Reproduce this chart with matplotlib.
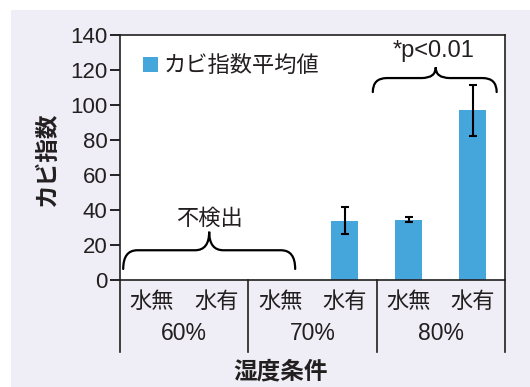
import numpy as np
import matplotlib.pyplot as plt
from matplotlib.path import Path
from matplotlib.patches import PathPatch, Rectangle

plt.rcParams['font.family'] = ['Liberation Sans', 'Noto Sans CJK JP']

water = ["水無", "水有", "水無", "水有", "水無", "水有"]
humidity = ["60%", "70%", "80%"]
values = [0, 0, 0, 34, 34.5, 97]
errors = [0, 0, 0, 7.5, 1.5, 14.5]
legend_label = "カビ指数平均値"

bar_color = "#45A6DC"
text_color = "#231F20"
cjk = ['Noto Sans CJK JP', 'DejaVu Sans']


def brace(ax, x0, x1, xm, ybot, ytop, ytip, rx=0.22):
    # curly bracket opening downwards, drawn in data coords
    verts = [
        (x0, ybot), (x0, ytop), (x0 + rx, ytop),
        (xm - rx, ytop), (xm, ytop), (xm, ytip),
        (xm, ytop), (xm + rx, ytop),
        (x1 - rx, ytop), (x1, ytop), (x1, ybot),
    ]
    codes = [Path.MOVETO, Path.CURVE3, Path.CURVE3,
             Path.LINETO, Path.CURVE3, Path.CURVE3,
             Path.CURVE3, Path.CURVE3,
             Path.LINETO, Path.CURVE3, Path.CURVE3]
    ax.add_patch(PathPatch(Path(verts, codes), fill=False, lw=1.6,
                           color="black", clip_on=False, capstyle="round"))


fig = plt.figure(figsize=(5.3, 3.87), dpi=100)
fig.patches.append(Rectangle((11 / 530, 0), 1, 1 - 10 / 387, transform=fig.transFigure,
                             facecolor="#EFEEF6", edgecolor="none", zorder=-10))
ax = fig.add_axes([120 / 530, 1 - 280 / 387, 385 / 530, 245 / 387])
ax.set_facecolor("white")

x = np.arange(len(values))
ax.bar(x, values, width=0.42, color=bar_color, label=legend_label, zorder=2)
mask = np.array(errors) > 0
ax.errorbar(x[mask], np.array(values)[mask], yerr=np.array(errors)[mask], fmt="none",
            ecolor="black", elinewidth=1.5, capsize=2.8, capthick=1.5, zorder=3)

ax.set_xlim(-0.5, 5.5)
ax.set_ylim(0, 140)
ax.set_yticks(np.arange(0, 141, 20))
ax.tick_params(axis="y", direction="out", length=7, width=1.2, labelsize=16,
               labelcolor=text_color, pad=2)
ax.set_xticks([])
for s in ax.spines.values():
    s.set_linewidth(1.2)
    s.set_color("#231F20")

# category labels under the axis
for i, w in enumerate(water):
    ax.text(i, -12.5, w, ha="center", va="center", fontsize=16, color=text_color,
            family=cjk, clip_on=False)
for j, h in enumerate(humidity):
    ax.text(2 * j + 0.5, -30.5, h, ha="center", va="center", fontsize=16.5,
            color=text_color, clip_on=False)
for k in range(4):
    ax.plot([2 * k - 0.5, 2 * k - 0.5], [0, -41], color="#231F20", lw=1.2,
            clip_on=False)

ax.text(2.0, -52.5, "湿度条件", ha="center", va="center", fontsize=17,
        fontweight="bold", color=text_color, family=cjk, clip_on=False)
fig.text(47 / 530, 1 - 160 / 387, "カビ指数", rotation=90, ha="center", va="center",
         fontsize=17, fontweight="bold", color=text_color, family=cjk)

# braces and notes
brace(ax, -0.45, 2.23, 0.89, 6.3, 17, 27.6)
ax.text(0.89, 35, "不検出", ha="center", va="center", fontsize=16, color=text_color,
        family=cjk)
brace(ax, 3.44, 5.37, 4.42, 107.4, 115.4, 121.5)
ax.text(4.38, 131, "*p<0.01", ha="center", va="center", fontsize=17,
        color=text_color, clip_on=False)

ax.legend(loc="upper left", bbox_to_anchor=(0.02, 0.985), frameon=False,
          prop={"family": cjk, "size": 16},
          handlelength=0.65, handleheight=0.65, handletextpad=0.25,
          labelcolor=text_color, borderaxespad=0.3)

fig.savefig("out.png", dpi=100)
